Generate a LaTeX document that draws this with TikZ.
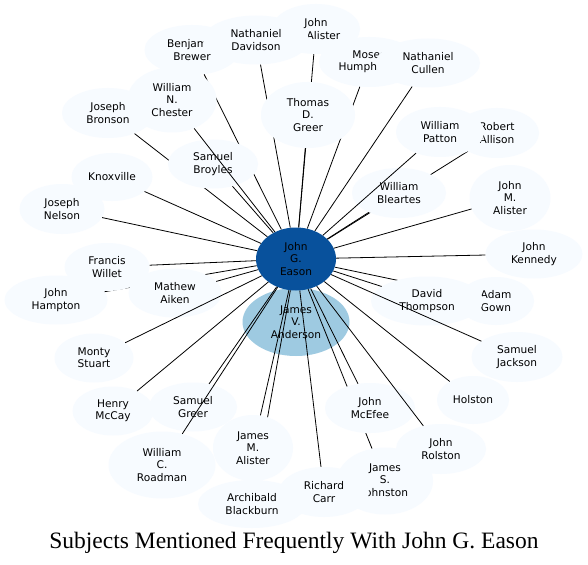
\documentclass[tikz,border=0pt]{standalone}
\usepackage{fontspec}
\setmainfont{DejaVu Sans}
\newfontfamily\titlefont{Liberation Serif}
\usetikzlibrary{shapes.geometric}
\definecolor{nodefill}{HTML}{F7FBFF}
\definecolor{centerfill}{HTML}{08519C}
\definecolor{secondfill}{HTML}{9ECAE1}
\tikzset{
  person/.style={ellipse, fill=nodefill, inner sep=0pt, align=center,
    font=\fontsize{10.6}{12.4}\selectfont},
  link/.style={draw=black, line width=0.8pt},
}
\newcommand\Pers[5]{\node[person, minimum width=#3pt, minimum height=#4pt] (#1) at (#2) {#5};}
\begin{document}
\begin{tikzpicture}[x=1pt,y=-1pt]
\fill[white] (0,0) rectangle (588,564);
\useasboundingbox (0,0) rectangle (588,564);
% second and center
\node[person, fill=secondfill, minimum width=107pt, minimum height=68pt] (anderson) at (296,322) {James\\V.\\Anderson};
\node[person, fill=centerfill, minimum width=80pt, minimum height=63pt] (c) at (296,259) {John\\G.\\Eason};
% top
\Pers{mcalister}{316,29}{88}{50}{John\\McAlister}
\Pers{humphreys}{369,62}{100}{50}{Moses\\Humphreys}
\Pers{brewer}{192,50}{95}{50}{Benjamin\\Brewer}
\Pers{davidson}{256,40}{106}{49}{Nathaniel\\Davidson}
\Pers{cullen}{428,63}{104}{49}{Nathaniel\\Cullen}
\draw[link] (c) -- (mcalister);
\draw[link] (c) -- (humphreys);
\draw[link] (c) -- (davidson);
\draw[link] (c) -- (brewer);
\draw[link] (c) -- (cullen);
\Pers{greer}{308,115}{94}{66}{Thomas\\D.\\Greer}
\draw[link] (c) -- (greer);
\Pers{bronson}{108,113}{92}{50}{Joseph\\Bronson}
\draw[link] (c) -- (bronson);
\Pers{broyles}{213,164}{90}{49}{Samuel\\Broyles}
\draw[link] (c) -- (broyles);
\Pers{chester}{172,100}{89}{65}{William\\N.\\Chester}
\draw[link] (c) -- (chester);
\Pers{knox}{112,177}{81}{48}{Knoxville}
\draw[link] (c) -- (knox);
\Pers{nelson}{62,209}{85}{50}{Joseph\\Nelson}
\draw[link] (c) -- (nelson);
% right top
\Pers{allison}{497,133}{84}{50}{Robert\\Allison}
\draw[link] (c) -- (allison);
\Pers{bleartes}{399,193}{94}{50}{William\\Bleartes}
\draw[link] (c) -- (bleartes);
\Pers{patton}{440,132}{88}{50}{William\\Patton}
\draw[link] (c) -- (patton);
\Pers{jmalister}{510,198}{81}{66}{John\\M.\\Alister}
\draw[link] (c) -- (jmalister);
\Pers{kennedy}{534,254}{97}{49}{John\\Kennedy}
\draw[link] (c) -- (kennedy);
% left middle
\Pers{hampton}{56,300}{103}{49}{John\\Hampton}
\draw[link] (c) -- (hampton);
\Pers{willet}{107,267}{85}{48}{Francis\\Willet}
\draw[link] (c) -- (willet);
\Pers{aiken}{175,293}{93}{49}{Mathew\\Aiken}
\draw[link] (c) -- (aiken);
\Pers{stuart}{94,358}{79}{49}{Monty\\Stuart}
\draw[link] (c) -- (stuart);
\Pers{mccay}{113,411}{81}{49}{Henry\\McCay}
\draw[link] (c) -- (mccay);
\Pers{sgreer}{193,407}{88}{49}{Samuel\\Greer}
\draw[link] (c) -- (sgreer);
\Pers{roadman}{162,465}{107}{67}{William\\C.\\Roadman}
\draw[link] (c) -- (roadman);
% bottom
\Pers{blackburn}{252,504}{108}{48}{Archibald\\Blackburn}
\draw[link] (c) -- (blackburn);
\Pers{jamesma}{253,448}{80}{66}{James\\M.\\Alister}
\draw[link] (c) -- (jamesma);
\Pers{johnston}{385,481}{96}{67}{James\\S.\\Johnston}
\draw[link] (c) -- (johnston);
\Pers{mcefee}{370,408}{90}{50}{John\\McEfee}
\draw[link] (c) -- (mcefee);
\Pers{carr}{324,492}{90}{50}{Richard\\Carr}
\draw[link] (c) -- (carr);
\Pers{rolston}{441,449}{90}{50}{John\\Rolston}
\draw[link] (c) -- (rolston);
\Pers{holston}{473,400}{72}{48}{Holston}
\draw[link] (c) -- (holston);
\Pers{gown}{496,301}{76}{48}{Adam\\Gown}
\draw[link] (c) -- (gown);
\Pers{thompson}{427,301}{112}{49}{David\\Thompson}
\draw[link] (c) -- (thompson);
\Pers{jackson}{517,357}{91}{50}{Samuel\\Jackson}
\draw[link] (c) -- (jackson);
% title
\node[font=\titlefont\fontsize{23.5}{28}\selectfont, inner sep=0pt] (title) at (294,543) {Subjects Mentioned Frequently With John G. Eason};
\end{tikzpicture}
\end{document}
